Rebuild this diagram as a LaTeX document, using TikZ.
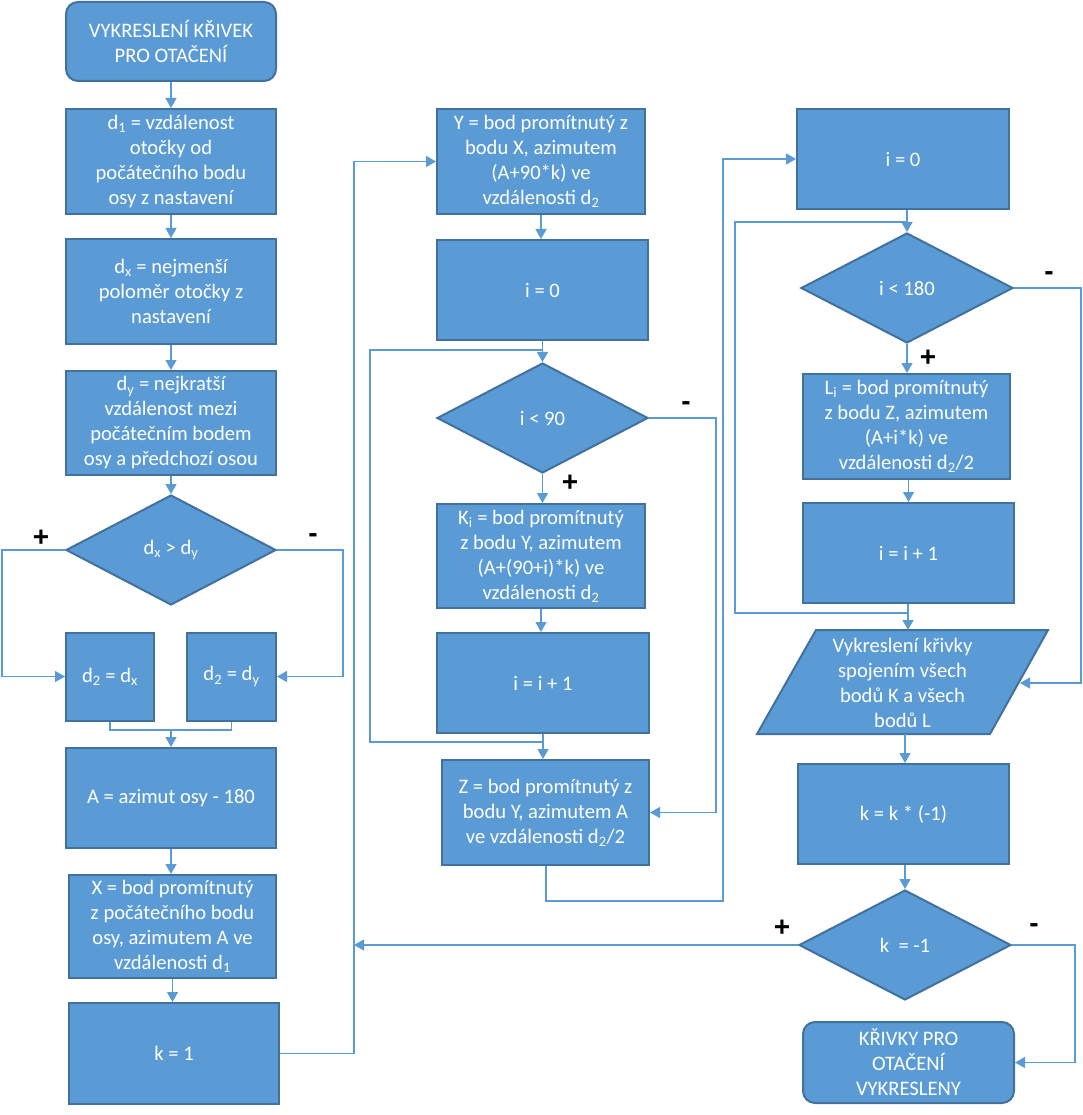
\documentclass[tikz,border=0pt]{standalone}
\usepackage{fontspec}
\setmainfont{Carlito}
\newfontfamily\labfont{Liberation Sans}
\usetikzlibrary{arrows.meta,shapes.geometric}
\definecolor{boxfill}{HTML}{5B9BD5}
\definecolor{boxline}{HTML}{41719C}
\definecolor{conn}{HTML}{5B9BD5}
\begin{document}
\begin{tikzpicture}[x=1pt,y=-1pt,
 base/.style={draw=boxline, fill=boxfill, line width=2pt, text=white,
   font=\fontsize{20.6}{25}\selectfont, align=center, inner sep=0pt},
 proc/.style={base, rectangle},
 term/.style={base, rectangle, rounded corners=12pt},
 dec/.style={base, diamond},
 sz/.style 2 args={minimum width=#1pt, minimum height=#2pt},
 ln/.style={draw=conn, line width=1.3pt},
 arr/.style={ln, -{Triangle[width=11pt,length=10pt]}},
 sign/.style={font=\labfont\bfseries\fontsize{28}{28}\selectfont, inner sep=0pt}
]
\useasboundingbox (0,0) rectangle (1082,1115);

% ---- column 1
\node[term, sz={210}{79}] (start) at (171,41.5) {VYKRESLENÍ KŘIVEK\\PRO OTAČENÍ};
\node[proc, sz={210}{105}] (d1) at (171,161.5) {d\textsubscript{1} = vzdálenost\\otočky od\\počátečního bodu\\osy z nastavení};
\node[proc, sz={210}{105}] (dx) at (171,291.5) {d\textsubscript{x} = nejmenší\\poloměr otočky z\\nastavení};
\node[proc, sz={210}{104}] (dy) at (171,423) {d\textsubscript{y} = nejkratší\\vzdálenost mezi\\počátečním bodem\\osy a předchozí osou};
\node[dec, sz={210}{110}] (c1) at (171,550) {d\textsubscript{x} > d\textsubscript{y}};
\node[proc, sz={88}{88}] (d2x) at (110,676.5) {d\textsubscript{2} = d\textsubscript{x}};
\node[proc, sz={89}{88}] (d2y) at (231.5,676.5) {d\textsubscript{2} = d\textsubscript{y}};
\node[proc, sz={210}{100}] (A) at (171,798) {A = azimut osy - 180};
\node[proc, sz={207}{103}] (X) at (172.5,926.5) {X = bod promítnutý\\z počátečního bodu\\osy, azimutem A ve\\vzdálenosti d\textsubscript{1}};
\node[proc, sz={210}{101}] (k1) at (174,1053.5) {k = 1};

% ---- column 2
\node[proc, sz={208}{105}] (Y) at (541,161.5) {Y = bod promítnutý z\\bodu X, azimutem\\(A+90*k) ve\\vzdálenosti d\textsubscript{2}};
\node[proc, sz={211}{100}] (i0) at (542.5,290) {i = 0};
\node[dec, sz={211}{110}] (c2) at (542.5,418) {i < 90};
\node[proc, sz={208}{104}] (K) at (541,556) {K\textsubscript{i} = bod promítnutý\\z bodu Y, azimutem\\(A+(90+i)*k) ve\\vzdálenosti d\textsubscript{2}};
\node[proc, sz={212}{100}] (inc1) at (543,683) {i = i + 1};
\node[proc, sz={207}{105}] (Z) at (545.5,812.5) {Z = bod promítnutý z\\bodu Y, azimutem A\\ve vzdálenosti d\textsubscript{2}/2};

% ---- column 3
\node[proc, sz={212}{100}] (j0) at (903,159) {i = 0};
\node[dec, sz={212}{110}] (c3) at (907,288) {i < 180};
\node[proc, sz={207}{105}] (L) at (906.5,426.5) {L\textsubscript{i} = bod promítnutý\\z bodu Z, azimutem\\(A+i*k) ve\\vzdálenosti d\textsubscript{2}/2};
\node[proc, sz={211}{100}] (inc2) at (908.5,553) {i = i + 1};
\path[base] (757,734) -- (816,630) -- (1048,630) -- (990,734) -- cycle;
\node[text=white, font=\fontsize{20.6}{25}\selectfont, align=center, inner sep=0pt] (par) at (902.5,683)
  {Vykreslení křivky\\spojením všech\\bodů K a všech\\bodů L};
\coordinate (parT) at (908,630);
\coordinate (parB) at (905,734);
\coordinate (parR) at (1020,683);
\node[proc, sz={211}{100}] (kk) at (903.5,814) {k = k * (-1)};
\node[dec, sz={212}{110}] (c4) at (905,945) {k\ \ = -1};
\node[term, sz={211}{81}] (end) at (908.5,1062.5) {KŘIVKY PRO\\OTAČENÍ\\VYKRESLENY};

% ---- connectors column 1
\draw[arr] (start) -- (d1);
\draw[arr] (d1) -- (dx);
\draw[arr] (dx) -- (dy);
\draw[arr] (dy) -- (c1);
\draw[arr] (c1.west) -- (2,550) |- (d2x.west);
\draw[arr] (c1.east) -- (343,550) |- (d2y.east);
\coordinate (mrg) at (171,730);
\draw[ln] (d2x.south) |- (mrg) -| (d2y.south);
\draw[arr] (mrg) -- (A.north);
\draw[arr] (A.south) -- (A.south |- X.north);
\draw[arr] (X.south) -- (X.south |- k1.north);
\coordinate (bus) at (354,1053.5);
\draw[arr] (k1.east) -- (bus) |- (Y.west);

% ---- connectors column 2
\draw[arr] (Y.south) -- (Y.south |- i0.north);
\draw[arr] (i0) -- (c2);
\draw[arr] (c2) -- (c2.south |- K.north);
\draw[arr] (K.south) -- (K.south |- inc1.north);
\draw[arr] (inc1.south) -- (inc1.south |- Z.north);
\coordinate (lp1) at (543,742);
\draw[ln] (lp1) -- (370,742) -- (370,350) -- (542.5,350);
\draw[arr] (c2.east) -- (716,418) |- (Z.east);
\coordinate (zb) at (546,901);
\draw[arr] (Z.south -| zb) -- (zb) -- (723,901) |- (j0.west);

% ---- connectors column 3
\draw[arr] (j0.south -| c3) -- (c3.north);
\draw[arr] (c3.south) -- (c3.south |- L.north);
\draw[arr] (L.south -| inc2) -- (inc2.north);
\draw[arr] (inc2.south -| parT) -- (parT);
\draw[ln] (908,613) -- (735,613) -- (735,222) -- (907,222);
\draw[arr] (c3.east) -- (1081,288) |- (parR);
\draw[arr] (parB) -- (parB |- kk.north);
\draw[arr] (kk.south -| c4) -- (c4.north);
\draw[arr] (c4.west) -- (bus |- c4.west);
\draw[arr] (c4.east) -- (1075,945) |- (end.east);

% ---- branch labels
\node[sign] (p1) at (41,538) {+};
\node[sign] (m1) at (313,538) {-};
\node[sign] (p2) at (570,483) {+};
\node[sign] (m2) at (686,406) {-};
\node[sign] (p3) at (928,358) {+};
\node[sign] (m3) at (1049,276) {-};
\node[sign] (p4) at (782,928) {+};
\node[sign] (m4) at (1034,928) {-};
\end{tikzpicture}
\end{document}
